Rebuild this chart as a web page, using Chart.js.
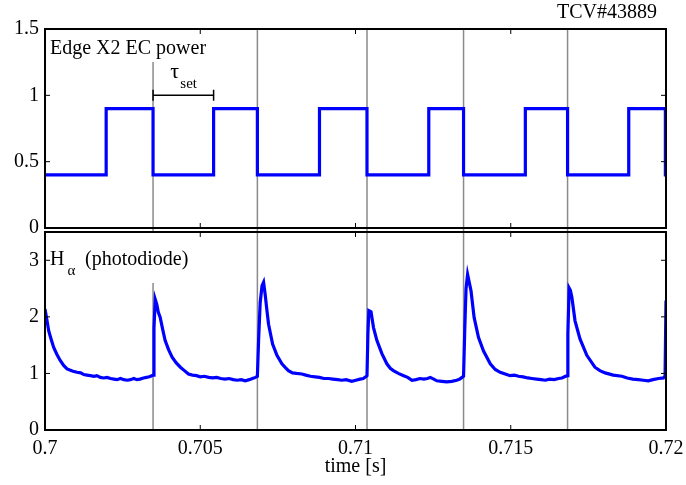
<!DOCTYPE html>
<html>
<head>
<meta charset="utf-8">
<title>TCV#43889</title>
<script src="https://cdn.jsdelivr.net/npm/chart.js@4.4.1/dist/chart.umd.min.js"></script>
<style>
  html, body { margin: 0; padding: 0; background: #fff; }
  #wrap { position: relative; width: 686px; height: 485px; }
  #wrap canvas { position: absolute; left: 0; }
  #ecChart { top: 0; }
  #haChart { top: 229px; }
</style>
</head>
<body>
<div id="wrap">
  <canvas id="ecChart" width="686" height="240"></canvas>
  <canvas id="haChart" width="686" height="256"></canvas>
</div>
<script>
// time axis shared by both panels [s]
var xMin = 0.7, xMax = 0.72;
var xTicks = [0.7, 0.705, 0.71, 0.715, 0.72];
var xTickLabels = ['0.7', '0.705', '0.71', '0.715', '0.72'];

// edge X2 EC power, each level holds until the next time
var ecTime  = [0.7, 0.70197, 0.70348, 0.70543, 0.70684, 0.70884, 0.71037, 0.71236, 0.71348, 0.71547, 0.71683, 0.71880, 0.71998, 0.72];
var ecPower = [0.4, 0.9,     0.4,     0.9,     0.4,     0.9,     0.4,     0.9,     0.4,     0.9,     0.4,     0.9,     0.4,     0.4];
var ecTicks = [0, 0.5, 1, 1.5];
var ecTickLabels = ['0', '0.5', '1', '1.5'];

// EC switch-off times (grey markers in both panels)
var switchOff = [0.70348, 0.70684, 0.71037, 0.71348, 0.71683];

// tau_set bracket: switch-off to next switch-on, drawn at power = 1
var tauStart = 0.70348, tauEnd = 0.70543, tauLevel = 1;

// H-alpha photodiode signal
var haTime = [
  0.70000, 0.70006, 0.70012, 0.70020, 0.70028, 0.70038, 0.70049, 0.70060, 0.70071, 0.70080,
  0.70090, 0.70103, 0.70115, 0.70125, 0.70135, 0.70146, 0.70158, 0.70167, 0.70178, 0.70189,
  0.70200, 0.70211, 0.70222, 0.70232, 0.70243, 0.70254, 0.70265, 0.70275, 0.70286, 0.70296,
  0.70306, 0.70317, 0.70327, 0.70336, 0.70344, 0.70348, 0.70351, 0.70355, 0.70360, 0.70365,
  0.70371, 0.70379, 0.70387, 0.70398, 0.70409, 0.70422, 0.70436, 0.70449, 0.70462, 0.70475,
  0.70488, 0.70500, 0.70513, 0.70527, 0.70540, 0.70553, 0.70566, 0.70580, 0.70593, 0.70606,
  0.70619, 0.70632, 0.70645, 0.70658, 0.70668, 0.70678, 0.70684, 0.70688, 0.70693, 0.70699,
  0.70704, 0.70709, 0.70715, 0.70720, 0.70733, 0.70747, 0.70763, 0.70775, 0.70784, 0.70797,
  0.70810, 0.70827, 0.70840, 0.70855, 0.70870, 0.70884, 0.70898, 0.70913, 0.70927, 0.70942,
  0.70956, 0.70970, 0.70988, 0.71001, 0.71015, 0.71025, 0.71033, 0.71037, 0.71040, 0.71043,
  0.71050, 0.71058, 0.71069, 0.71085, 0.71101, 0.71112, 0.71122, 0.71138, 0.71155, 0.71168,
  0.71182, 0.71195, 0.71208, 0.71220, 0.71232, 0.71241, 0.71252, 0.71262, 0.71278, 0.71294,
  0.71310, 0.71326, 0.71336, 0.71343, 0.71348, 0.71352, 0.71356, 0.71361, 0.71366, 0.71372,
  0.71382, 0.71396, 0.71412, 0.71434, 0.71450, 0.71466, 0.71482, 0.71498, 0.71512, 0.71525,
  0.71540, 0.71555, 0.71568, 0.71583, 0.71598, 0.71611, 0.71625, 0.71640, 0.71654, 0.71665,
  0.71673, 0.71682, 0.71684, 0.71688, 0.71692, 0.71697, 0.71707, 0.71723, 0.71745, 0.71771,
  0.71787, 0.71804, 0.71830, 0.71858, 0.71875, 0.71893, 0.71911, 0.71927, 0.71943, 0.71958,
  0.71976, 0.71992, 0.71997, 0.72000
];
var haSignal = [
  2.14, 1.95, 1.75, 1.60, 1.46, 1.34, 1.23, 1.14, 1.08, 1.06,
  1.04, 1.02, 1.01, 0.98, 0.97, 0.96, 0.95, 0.96, 0.93, 0.92,
  0.93, 0.91, 0.90, 0.89, 0.91, 0.89, 0.88, 0.89, 0.91, 0.89,
  0.90, 0.92, 0.93, 0.94, 0.96, 0.97, 1.80, 2.31, 2.22, 2.08,
  1.99, 1.78, 1.58, 1.42, 1.29, 1.19, 1.11, 1.05, 0.99, 0.97,
  0.96, 0.94, 0.95, 0.93, 0.92, 0.93, 0.91, 0.90, 0.91, 0.89,
  0.88, 0.89, 0.87, 0.89, 0.91, 0.93, 0.95, 1.60, 2.25, 2.55,
  2.61, 2.40, 2.10, 1.87, 1.52, 1.32, 1.17, 1.10, 1.05, 1.01,
  1.00, 0.99, 0.97, 0.95, 0.94, 0.93, 0.91, 0.91, 0.90, 0.89,
  0.88, 0.89, 0.86, 0.88, 0.90, 0.91, 0.94, 0.96, 1.70, 2.11,
  2.09, 1.81, 1.58, 1.35, 1.17, 1.09, 1.05, 1.00, 0.96, 0.93,
  0.88, 0.89, 0.91, 0.90, 0.91, 0.93, 0.90, 0.87, 0.86, 0.85,
  0.86, 0.88, 0.90, 0.93, 0.95, 1.80, 2.50, 2.75, 2.62, 2.46,
  1.99, 1.64, 1.40, 1.17, 1.07, 1.02, 0.99, 0.96, 0.97, 0.95,
  0.94, 0.92, 0.91, 0.90, 0.89, 0.88, 0.90, 0.89, 0.91, 0.92,
  0.94, 0.96, 1.70, 2.51, 2.47, 2.34, 1.93, 1.61, 1.32, 1.11,
  1.05, 1.01, 0.97, 0.95, 0.92, 0.90, 0.89, 0.88, 0.87, 0.89,
  0.91, 0.92, 0.95, 2.29
];
var haMax = 3.5;
var haTicks = [0, 1, 2, 3];
var haTickLabels = ['0', '1', '2', '3'];

var SERIF = "'Liberation Serif', 'Times New Roman', serif";
Chart.defaults.font.family = SERIF;
Chart.defaults.font.size = 20;
Chart.defaults.color = '#000';

function toPoints(xs, ys) {
  return xs.map(function (t, i) { return { x: t, y: ys[i] }; });
}

function setTicks(values) {
  return function (scale) {
    scale.ticks = values.map(function (v) { return { value: v }; });
  };
}

// fixed axis box; tick labels may overhang the plot area
function fixSize(w, h) {
  return function (s) {
    if (w !== null) s.width = w;
    if (h !== null) s.height = h;
    s.paddingTop = 0; s.paddingBottom = 0;
    s.paddingLeft = 0; s.paddingRight = 0;
  };
}

function drawText(ctx, str, x, y, size, align) {
  ctx.font = size + 'px ' + SERIF;
  ctx.textAlign = align || 'left';
  ctx.textBaseline = 'alphabetic';
  ctx.fillStyle = '#000';
  ctx.fillText(str, x, y);
  return ctx.measureText(str).width;
}

// grey switch-off markers, boxed frame and inward ticks on all four sides
var panelFrame = {
  id: 'panelFrame',
  beforeDatasetsDraw: function (chart, args, opts) {
    var ctx = chart.ctx, a = chart.chartArea, x = chart.scales.x;
    ctx.save();
    ctx.strokeStyle = '#8a8a8a';
    ctx.lineWidth = 1.5;
    switchOff.forEach(function (t) {
      var px = x.getPixelForValue(t);
      ctx.beginPath();
      ctx.moveTo(px, a.top);
      ctx.lineTo(px, a.bottom + (opts.overhang || 0));
      ctx.stroke();
    });
    ctx.restore();
  },
  afterDatasetsDraw: function (chart) {
    var ctx = chart.ctx, a = chart.chartArea, x = chart.scales.x, y = chart.scales.y;
    var len = 5;
    ctx.save();
    ctx.strokeStyle = '#000';
    ctx.lineWidth = 1;
    ctx.beginPath();
    x.ticks.forEach(function (t) {
      var px = x.getPixelForValue(t.value);
      ctx.moveTo(px, a.bottom); ctx.lineTo(px, a.bottom - len);
      ctx.moveTo(px, a.top); ctx.lineTo(px, a.top + len);
    });
    y.ticks.forEach(function (t) {
      var py = y.getPixelForValue(t.value);
      ctx.moveTo(a.left, py); ctx.lineTo(a.left + len, py);
      ctx.moveTo(a.right, py); ctx.lineTo(a.right - len, py);
    });
    ctx.stroke();
    ctx.lineWidth = 2;
    ctx.strokeRect(a.left, a.top, a.right - a.left, a.bottom - a.top);
    ctx.restore();
  }
};

// labels of the EC power panel: title, shot number, tau_set bracket
var ecNotes = {
  id: 'ecNotes',
  beforeDatasetsDraw: function (chart) {
    var ctx = chart.ctx, a = chart.chartArea, x = chart.scales.x, y = chart.scales.y;
    ctx.save();
    ctx.font = '20px ' + SERIF;
    var w = ctx.measureText('Edge X2 EC power').width;
    ctx.fillStyle = '#fff';
    ctx.fillRect(a.left + 1, a.top + 1, w + 10, 32);
    drawText(ctx, 'Edge X2 EC power', a.left + 5, a.top + 25, 20);

    var x0 = x.getPixelForValue(tauStart), x1 = x.getPixelForValue(tauEnd);
    var yb = y.getPixelForValue(tauLevel);
    ctx.strokeStyle = '#000';
    ctx.lineWidth = 1.5;
    ctx.beginPath();
    ctx.moveTo(x0, yb); ctx.lineTo(x1, yb);
    ctx.moveTo(x0, yb - 5.5); ctx.lineTo(x0, yb + 5.5);
    ctx.moveTo(x1, yb - 5.5); ctx.lineTo(x1, yb + 5.5);
    ctx.stroke();
    var cx = (x0 + x1) / 2;
    drawText(ctx, '\u03c4', cx - 13, yb - 17.5, 22);
    drawText(ctx, 'set', cx - 3, yb - 7.5, 15);
    ctx.restore();
  },
  afterDraw: function (chart) {
    var ctx = chart.ctx, a = chart.chartArea;
    ctx.save();
    drawText(ctx, 'TCV#43889', a.right - 9, a.top - 11, 20, 'right');
    ctx.restore();
  }
};

// label of the H-alpha panel
var haNotes = {
  id: 'haNotes',
  beforeDatasetsDraw: function (chart) {
    var ctx = chart.ctx, a = chart.chartArea;
    ctx.save();
    ctx.font = '20px ' + SERIF;
    ctx.fillStyle = '#fff';
    ctx.fillRect(a.left + 1, a.top + 1, 145, 50);
    var bx = a.left + 5, by = a.top + 32.5;
    var w = drawText(ctx, 'H', bx, by, 20);
    drawText(ctx, '\u03b1', bx + w + 3, by + 10, 15);
    drawText(ctx, '(photodiode)', bx + 35, by, 20);
    ctx.restore();
  }
};

function lineDataset(xs, ys, stepped) {
  return {
    data: toPoints(xs, ys),
    showLine: true,
    stepped: stepped,
    borderColor: '#0000ff',
    backgroundColor: '#0000ff',
    borderWidth: 3.2,
    borderJoinStyle: 'miter',
    borderCapStyle: 'butt',
    pointRadius: 0,
    tension: 0
  };
}

function yAxis(max, ticks, labels) {
  return {
    type: 'linear',
    min: 0,
    max: max,
    afterBuildTicks: setTicks(ticks),
    afterFit: fixSize(45, null),
    grid: { display: false, drawTicks: false },
    border: { display: false },
    ticks: {
      padding: 6,
      font: { size: 20 },
      callback: function (v, i) { return labels[i]; }
    }
  };
}

new Chart(document.getElementById('ecChart'), {
  type: 'scatter',
  data: { datasets: [lineDataset(ecTime, ecPower, true)] },
  options: {
    responsive: false,
    animation: false,
    layout: { padding: { top: 29, right: 20, left: 0, bottom: 0 } },
    plugins: {
      legend: { display: false },
      tooltip: { enabled: false },
      panelFrame: { overhang: 4 }
    },
    scales: {
      x: {
        type: 'linear',
        min: xMin,
        max: xMax,
        afterBuildTicks: setTicks(xTicks),
        afterFit: fixSize(null, 12),
        grid: { display: false, drawTicks: false },
        border: { display: false },
        ticks: { display: false }
      },
      y: yAxis(1.5, ecTicks, ecTickLabels)
    }
  },
  plugins: [panelFrame, ecNotes]
});

new Chart(document.getElementById('haChart'), {
  type: 'scatter',
  data: { datasets: [lineDataset(haTime, haSignal, false)] },
  options: {
    responsive: false,
    animation: false,
    layout: { padding: { top: 3, right: 20, left: 0, bottom: 0 } },
    plugins: {
      legend: { display: false },
      tooltip: { enabled: false },
      panelFrame: { overhang: 0 }
    },
    scales: {
      x: {
        type: 'linear',
        min: xMin,
        max: xMax,
        afterBuildTicks: setTicks(xTicks),
        afterFit: fixSize(null, 55),
        grid: { display: false, drawTicks: false },
        border: { display: false },
        ticks: {
          padding: 7,
          maxRotation: 0,
          font: { size: 20 },
          callback: function (v, i) { return xTickLabels[i]; }
        },
        title: {
          display: true,
          text: 'time [s]',
          font: { size: 20 },
          padding: { top: 0, bottom: 6 }
        }
      },
      y: yAxis(haMax, haTicks, haTickLabels)
    }
  },
  plugins: [panelFrame, haNotes]
});
</script>
</body>
</html>
